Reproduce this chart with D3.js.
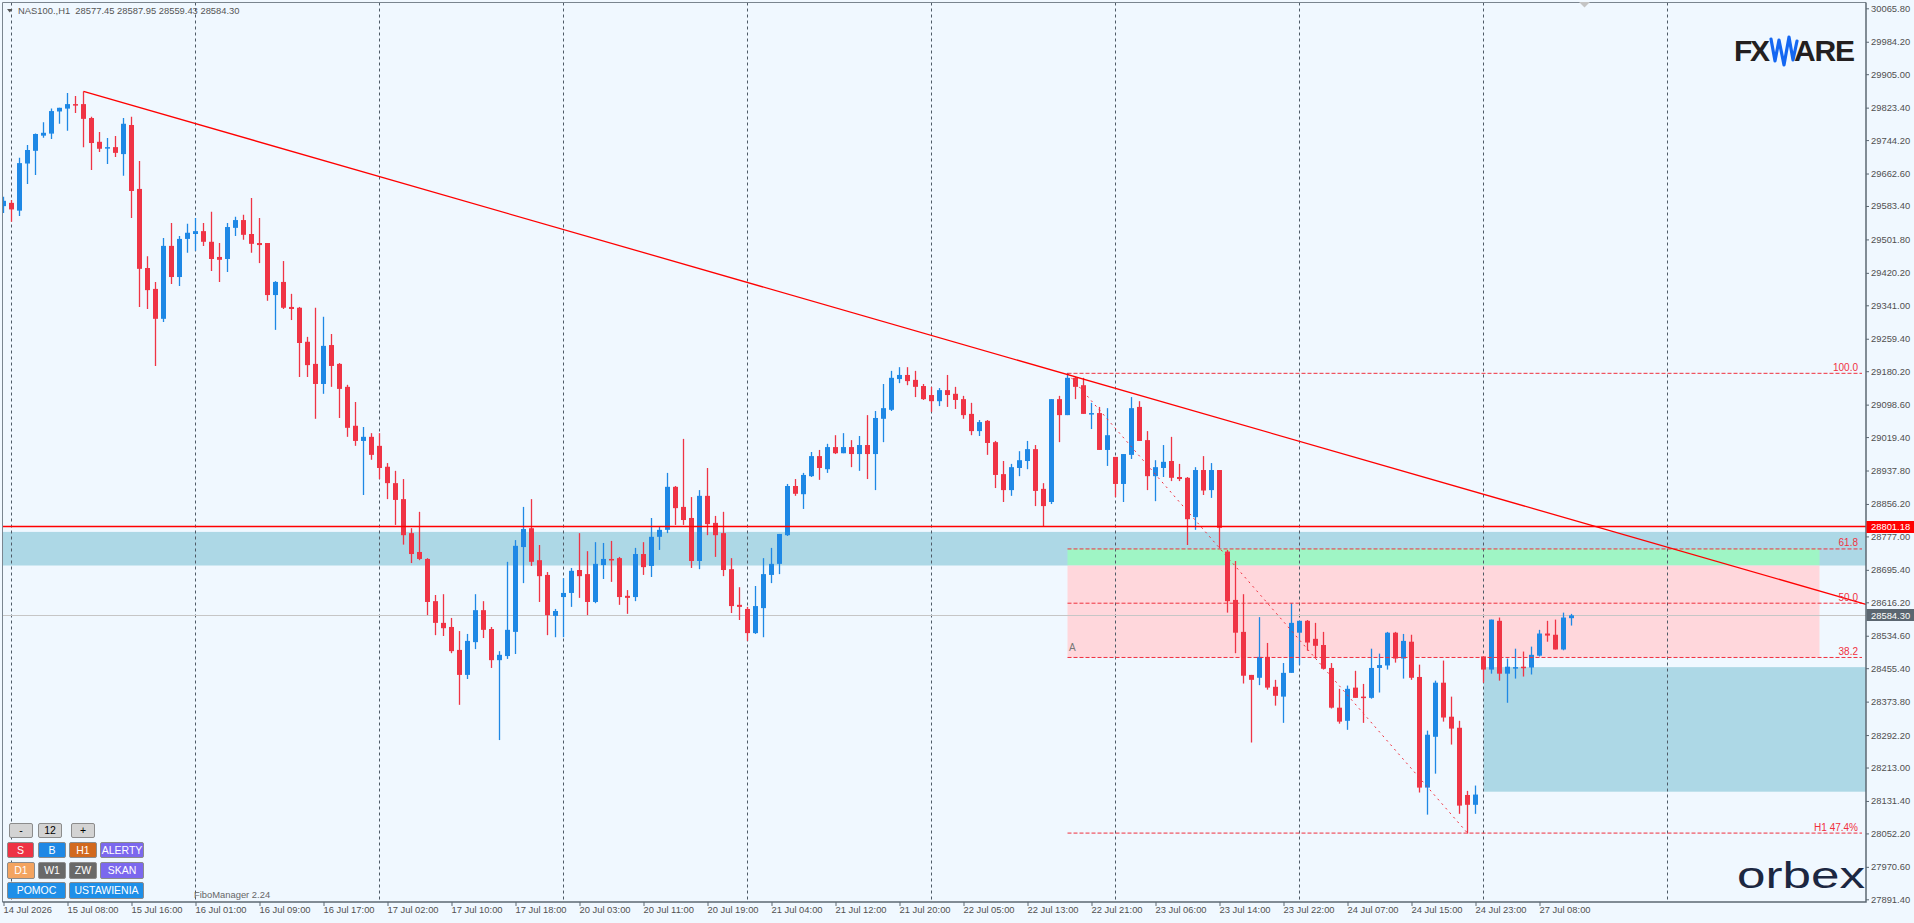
<!DOCTYPE html>
<html>
<head>
<meta charset="utf-8">
<script src="https://cdn.jsdelivr.net/npm/d3@7"></script>
<style>
html, body { margin:0; padding:0; background:#f0f8ff; overflow:hidden; }
svg { display:block; }
text { font-family:"Liberation Sans", Arial, sans-serif; }
</style>
</head>
<body>
<script>
// NAS100 H1 - ceny
const headerText = "NAS100.,H1  28577.45 28587.95 28559.43 28584.30";

const open = [
29583,29591,29572,29687,29718,29755,29760,29814,29821,29832,
29832,29798,29740,29726,29727,29710,29781,29625,29432,29381,
29308,29486,29410,29503,29515,29522,29496,29459,29454,29530,
29549,29515,29493,29493,29366,29398,29337,29335,29252,29198,
29149,29244,29198,29142,29047,29010,29020,28998,28947,28907,
28868,28785,28739,28722,28619,28566,28556,28500,28439,28519,
28597,28551,28475,28485,28544,28751,28797,28719,28683,28583,
28629,28639,28695,28685,28617,28707,28722,28724,28632,28629,
28734,28705,28776,28793,28898,28849,28822,28717,28876,28810,
28785,28697,28610,28600,28541,28602,28683,28710,28780,28900,
28880,28924,28973,28941,28995,28980,28995,28978,29000,28978,
29064,29086,29161,29171,29159,29144,29122,29107,29134,29125,
29112,29076,29034,29059,29007,28929,28890,28944,28961,28990,
28893,28861,29112,29073,29164,29146,29077,29078,28988,28971,
28905,28976,29093,29012,28924,28944,28961,28922,28920,28824,
28939,28890,28939,28740,28622,28544,28439,28432,28483,28410,
28386,28444,28542,28571,28527,28512,28456,28359,28327,28408,
28386,28383,28456,28462,28542,28479,28520,28434,28164,28288,
28420,28337,28310,28146,28122,28484,28452,28571,28442,28457,
28459,28457,28486,28540,28537,28501,28577.45];

const high = [
29606,29598,29701,29732,29760,29788,29821,29823,29859,29852,
29863,29801,29764,29749,29754,29798,29801,29693,29461,29398,
29505,29542,29510,29540,29554,29542,29569,29493,29542,29557,
29562,29603,29554,29493,29400,29449,29369,29337,29264,29335,
29313,29271,29200,29147,29105,29044,29029,29029,28956,28937,
28917,28797,28837,28724,28634,28636,28578,28546,28539,28636,
28619,28556,28497,28715,28768,28849,28868,28756,28690,28600,
28675,28700,28785,28741,28763,28761,28766,28727,28646,28749,
28763,28822,28800,28932,28900,29015,28873,28890,28944,28827,
28837,28724,28653,28605,28656,28724,28749,28783,28905,28917,
28932,28983,28988,29003,29024,29029,29012,29022,29073,29083,
29149,29181,29190,29190,29181,29149,29142,29139,29171,29142,
29120,29103,29061,29061,29010,28961,28954,28985,29010,29000,
28907,29112,29120,29176,29166,29164,29103,29093,29090,28971,
28978,29117,29107,29034,28963,29000,29020,28954,28922,28946,
28973,28956,28939,28744,28717,28636,28439,28580,28517,28427,
28468,28614,28571,28573,28566,28544,28468,28405,28413,28449,
28417,28503,28491,28544,28544,28539,28537,28464,28303,28425,
28474,28386,28327,28156,28169,28484,28574,28579,28479,28503,
28496,28508,28549,28571,28574,28591,28587.95];

const low = [
29566,29545,29559,29637,29659,29750,29747,29784,29767,29810,
29727,29671,29715,29686,29703,29657,29554,29337,29332,29193,
29300,29393,29388,29469,29474,29486,29425,29398,29422,29510,
29501,29469,29444,29352,29281,29332,29305,29166,29166,29064,
29125,29142,29066,29020,28998,28878,28964,28917,28868,28805,
28757,28712,28719,28585,28536,28534,28492,28366,28429,28502,
28529,28456,28280,28478,28490,28663,28705,28617,28536,28531,
28531,28605,28627,28585,28614,28673,28666,28610,28588,28619,
28683,28678,28744,28785,28805,28805,28700,28697,28780,28727,
28680,28590,28573,28522,28539,28531,28663,28685,28778,28876,
28844,28922,28915,28932,28978,28980,28946,28937,28917,28890,
29007,29083,29151,29146,29117,29110,29081,29095,29093,29088,
29064,29024,29022,28976,28895,28861,28876,28924,28941,28851,
28802,28856,29007,29073,29112,29076,29039,28988,28949,28873,
28861,28966,29010,28890,28863,28922,28912,28912,28756,28793,
28878,28871,28748,28591,28492,28418,28274,28414,28403,28364,
28322,28444,28464,28498,28479,28452,28357,28320,28305,28383,
28322,28381,28396,28452,28469,28430,28427,28152,28098,28198,
28325,28269,28100,28052,28100,28420,28442,28425,28371,28430,
28435,28440,28484,28520,28501,28499,28559.43];

const close = [
29596,29575,29688,29720,29759,29762,29815,29823,29832,29831,
29796,29737,29723,29727,29713,29784,29620,29430,29378,29308,
29486,29410,29503,29518,29522,29496,29454,29452,29532,29549,
29513,29491,29488,29366,29398,29335,29332,29249,29195,29149,
29242,29193,29137,29042,29010,29020,28976,28944,28907,28866,
28780,28734,28722,28617,28566,28553,28497,28439,28522,28597,
28549,28475,28488,28549,28754,28795,28715,28680,28585,28595,
28639,28693,28680,28617,28710,28722,28719,28629,28627,28734,
28702,28776,28793,28898,28846,28817,28717,28876,28807,28780,
28695,28607,28605,28541,28607,28685,28710,28783,28900,28881,
28927,28973,28944,28995,28980,28995,28978,29000,28978,29066,
29090,29164,29171,29156,29142,29112,29107,29134,29122,29110,
29073,29034,29056,29005,28927,28890,28946,28963,28990,28888,
28851,29112,29073,29164,29142,29076,29078,28988,29024,28905,
28978,29090,29010,28924,28946,28959,28920,28917,28819,28939,
28889,28939,28798,28619,28542,28437,28427,28483,28408,28388,
28444,28566,28571,28518,28510,28454,28359,28325,28405,28383,
28383,28456,28463,28542,28479,28522,28432,28164,28293,28420,
28335,28308,28120,28122,28147,28452,28574,28442,28459,28458,
28457,28488,28540,28535,28501,28579,28584.30];

const timeLabels = ["14 Jul 2026","15 Jul 08:00","15 Jul 16:00","16 Jul 01:00","16 Jul 09:00",
"16 Jul 17:00","17 Jul 02:00","17 Jul 10:00","17 Jul 18:00","20 Jul 03:00","20 Jul 11:00",
"20 Jul 19:00","21 Jul 04:00","21 Jul 12:00","21 Jul 20:00","22 Jul 05:00","22 Jul 13:00",
"22 Jul 21:00","23 Jul 06:00","23 Jul 14:00","23 Jul 22:00","24 Jul 07:00","24 Jul 15:00",
"24 Jul 23:00","27 Jul 08:00"];

const priceTicks = [30065.80,29984.20,29905.00,29823.40,29744.20,29662.60,29583.40,29501.80,
29420.20,29341.00,29259.40,29180.20,29098.60,29019.40,28937.80,28856.20,28777.00,28695.40,
28616.20,28534.60,28455.40,28373.80,28292.20,28213.00,28131.40,28052.20,27970.60,27891.40];

// obiekty na wykresie
const trendA = [10, 29863];
const trendB = [133, 29172];
const levelLine = 28801.18;
const lastPrice = 28584.30;
const blueBand = [28788, 28706];
const gapBox = [28458, 28154];
const fibStartBar = 133, fibEndBar = 183;
const fibHigh = 29175, fibLow = 28053;
const fibLevels = [100, 61.8, 50, 38.2];
const fibNames = ["100.0", "61.8", "50.0", "38.2"];
const fibZoneMid = 28706;

const W = 1914, H = 923;
const plotL = 2.5, plotR = 1866, plotT = 2.5, plotB = 902;

const x = d3.scaleLinear().domain([0, 196]).range([3.5, 3.5 + 8 * 196]);
const y = d3.scaleLinear().domain([27891.4, 30065.8]).range([899.3, 8.3]);
const fibPrice = lv => fibLow + (fibHigh - fibLow) * lv / 100;

const bull = "#1e88e5", bear = "#ef3445", fibRed = "#f0303e", frame = "#5c6873";

const svg = d3.select("body").append("svg").attr("width", W).attr("height", H);
svg.append("rect").attr("width", W).attr("height", H).attr("fill", "#f0f8ff");

svg.append("clipPath").attr("id", "plot")
  .append("rect").attr("x", plotL).attr("y", plotT).attr("width", plotR - plotL).attr("height", plotB - plotT);
const g = svg.append("g").attr("clip-path", "url(#plot)");

// strefy
g.append("rect").attr("x", plotL).attr("width", plotR - plotL)
  .attr("y", y(blueBand[0])).attr("height", y(blueBand[1]) - y(blueBand[0])).attr("fill", "#add8e6");
g.append("rect").attr("x", x(185)).attr("width", plotR - x(185))
  .attr("y", y(gapBox[0])).attr("height", y(gapBox[1]) - y(gapBox[0])).attr("fill", "#add8e6");
g.append("rect").attr("x", x(fibStartBar)).attr("width", x(227) - x(fibStartBar))
  .attr("y", y(fibPrice(61.8))).attr("height", y(fibZoneMid) - y(fibPrice(61.8))).attr("fill", "#9ff5c5");
g.append("rect").attr("x", x(fibStartBar)).attr("width", x(227) - x(fibStartBar))
  .attr("y", y(fibZoneMid)).attr("height", y(fibPrice(38.2)) - y(fibZoneMid)).attr("fill", "#ffd7dc");

// siatka
g.selectAll(".grid").data(d3.range(1, 230, 23)).enter().append("line")
  .attr("x1", d => x(d)).attr("x2", d => x(d)).attr("y1", plotT).attr("y2", plotB)
  .attr("stroke", "#4e5a66").attr("stroke-width", 1).attr("stroke-dasharray", "3,3");

// linia ceny
g.append("line").attr("x1", plotL).attr("x2", plotR).attr("y1", Math.round(y(lastPrice)) + 0.5)
  .attr("y2", Math.round(y(lastPrice)) + 0.5).attr("stroke", "#c6c6c6");

// swiece
const bars = open.map((o, i) => ({ i: i, o: o, h: high[i], l: low[i], c: close[i] }));
const candle = g.selectAll(".candle").data(bars).enter().append("g");
candle.append("line")
  .attr("x1", d => x(d.i)).attr("x2", d => x(d.i))
  .attr("y1", d => y(d.h)).attr("y2", d => y(d.l))
  .attr("stroke", d => d.c >= d.o ? bull : bear).attr("stroke-width", 1.3);
candle.append("rect")
  .attr("x", d => x(d.i) - 2.5).attr("width", 5)
  .attr("y", d => y(Math.max(d.o, d.c)))
  .attr("height", d => Math.max(1.5, Math.abs(y(d.o) - y(d.c))))
  .attr("fill", d => d.c >= d.o ? bull : bear);

// fibo
fibLevels.forEach((lv, k) => {
  g.append("line").attr("x1", x(fibStartBar)).attr("x2", plotR - 4)
    .attr("y1", y(fibPrice(lv))).attr("y2", y(fibPrice(lv)))
    .attr("stroke", fibRed).attr("stroke-dasharray", "4,2");
  svg.append("text").attr("x", 1858).attr("y", y(fibPrice(lv)) - 2.5)
    .attr("text-anchor", "end").attr("font-size", 10).attr("fill", fibRed).text(fibNames[k]);
});
g.append("line").attr("x1", x(fibStartBar)).attr("x2", plotR - 4)
  .attr("y1", y(fibLow)).attr("y2", y(fibLow))
  .attr("stroke", fibRed).attr("stroke-dasharray", "4,2");
svg.append("text").attr("x", 1858).attr("y", y(fibLow) - 2.5)
  .attr("text-anchor", "end").attr("font-size", 10).attr("fill", fibRed).text("H1 47.4%");
g.append("line").attr("x1", x(fibStartBar)).attr("y1", y(fibHigh))
  .attr("x2", x(fibEndBar)).attr("y2", y(fibLow))
  .attr("stroke", fibRed).attr("stroke-dasharray", "2,4");
svg.append("text").attr("x", 1069).attr("y", y(fibPrice(38.2)) - 6)
  .attr("font-size", 10).attr("fill", "#777").text("A");

// linia trendu
const slope = (trendB[1] - trendA[1]) / (trendB[0] - trendA[0]);
const endBar = x.invert(plotR);
g.append("line")
  .attr("x1", x(trendA[0])).attr("y1", y(trendA[1]))
  .attr("x2", x(endBar)).attr("y2", y(trendA[1] + slope * (endBar - trendA[0])))
  .attr("stroke", "#ff0000").attr("stroke-width", 1.3);

// poziom
g.append("line").attr("x1", plotL).attr("x2", plotR).attr("y1", y(levelLine)).attr("y2", y(levelLine))
  .attr("stroke", "#ff0000").attr("stroke-width", 1.6);

// ramka
svg.append("path")
  .attr("d", `M${plotL},${plotB} L${plotL},${plotT} L${plotR},${plotT}`)
  .attr("fill", "none").attr("stroke", "#7a858f").attr("stroke-width", 1);
svg.append("path")
  .attr("d", `M${plotR},${plotT} L${plotR},${plotB} L${plotL},${plotB}`)
  .attr("fill", "none").attr("stroke", frame).attr("stroke-width", 1.5);

// osie
const gy = svg.append("g").attr("transform", `translate(${plotR},0)`)
  .call(d3.axisRight(y).tickValues(priceTicks).tickFormat(d3.format(".2f")).tickSize(3).tickSizeOuter(0));
gy.select(".domain").remove();
gy.selectAll("line").attr("stroke", frame);
gy.selectAll("text").attr("x", 5).attr("font-size", 9.4)
  .attr("font-family", "Liberation Sans, Arial, sans-serif").attr("fill", "#505050");

const gx = svg.append("g").attr("transform", `translate(0,${plotB})`)
  .call(d3.axisBottom(x).tickValues(timeLabels.map((d, i) => i * 8))
    .tickFormat((d, i) => timeLabels[i]).tickSize(4).tickSizeOuter(0));
gx.select(".domain").remove();
gx.selectAll("line").attr("stroke", frame);
gx.selectAll("text").attr("text-anchor", "start").attr("x", -0.5).attr("y", 4.5)
  .attr("font-size", 9.4).attr("font-family", "Liberation Sans, Arial, sans-serif").attr("fill", "#505050");

// etykiety cen na osi
function priceTag(p, fill) {
  svg.append("rect").attr("x", plotR + 0.5).attr("y", Math.round(y(p)) - 6)
    .attr("width", W - plotR).attr("height", 12).attr("fill", fill);
  svg.append("text").attr("x", plotR + 5).attr("y", y(p)).attr("dy", "0.35em")
    .attr("font-size", 9.4).attr("fill", "#fff").text(d3.format(".2f")(p));
}
priceTag(levelLine, "#ff0000");
priceTag(lastPrice, "#5b6670");

// naglowek
svg.append("path").attr("d", "M7,9 L12.5,9 L9.75,12.5 Z").attr("fill", "#555");
svg.append("text").attr("x", 18).attr("y", 14).attr("font-size", 9.4).attr("fill", "#555")
  .attr("xml:space", "preserve").text(headerText);
svg.append("path").attr("d", "M1579,2 L1590,2 L1584.5,7.5 Z").attr("fill", "#c4c4c4");

// logo FXWARE
svg.append("text").attr("x", 1734).attr("y", 61).attr("font-size", 30).attr("font-weight", "bold")
  .attr("fill", "#231f20").attr("textLength", 36).text("FX");
svg.append("polyline")
  .attr("points", "1771,39 1775,61 1779,40 1784,65 1789,37 1793,60 1797,41")
  .attr("fill", "none").attr("stroke", "#1467f2").attr("stroke-width", 3.2)
  .attr("stroke-linejoin", "round").attr("stroke-linecap", "round");
svg.append("text").attr("x", 1794).attr("y", 61).attr("font-size", 30).attr("font-weight", "bold")
  .attr("fill", "#231f20").attr("textLength", 61).text("ARE");

// logo orbex
svg.append("text").attr("x", 1737).attr("y", 888).attr("font-size", 37)
  .attr("font-family", "Lato, 'Liberation Sans', sans-serif").attr("font-weight", 400)
  .attr("fill", "#1c2741").attr("textLength", 128).attr("lengthAdjust", "spacingAndGlyphs").text("orbex");

// przyciski panelu
const buttons = [
  { t: "-", x: 9.5, y: 823.5, w: 23, h: 14, f: "#d3d3d3", c: "#000" },
  { t: "12", x: 38.5, y: 823.5, w: 23, h: 14, f: "#d3d3d3", c: "#000" },
  { t: "+", x: 71.5, y: 823.5, w: 23, h: 14, f: "#d3d3d3", c: "#000" },
  { t: "S", x: 7.5, y: 842.5, w: 26, h: 15, f: "#ee3344", c: "#fff" },
  { t: "B", x: 38.5, y: 842.5, w: 27, h: 15, f: "#1e88e5", c: "#fff" },
  { t: "H1", x: 69.5, y: 842.5, w: 27, h: 15, f: "#d2691e", c: "#fff" },
  { t: "ALERTY", x: 100.5, y: 842.5, w: 43, h: 15, f: "#7b68ee", c: "#fff" },
  { t: "D1", x: 7.5, y: 862.5, w: 27, h: 16, f: "#f4a460", c: "#fff" },
  { t: "W1", x: 38.5, y: 862.5, w: 27, h: 16, f: "#696969", c: "#fff" },
  { t: "ZW", x: 69.5, y: 862.5, w: 27, h: 16, f: "#696969", c: "#fff" },
  { t: "SKAN", x: 100.5, y: 862.5, w: 43, h: 16, f: "#7b68ee", c: "#fff" },
  { t: "POMOC", x: 7.5, y: 882.5, w: 58, h: 16, f: "#1e8fe8", c: "#fff" },
  { t: "USTAWIENIA", x: 69.5, y: 882.5, w: 74, h: 16, f: "#1e8fe8", c: "#fff" }
];
const btn = svg.selectAll(".btn").data(buttons).enter().append("g");
btn.append("rect").attr("x", d => d.x).attr("y", d => d.y).attr("width", d => d.w).attr("height", d => d.h)
  .attr("rx", 1.5).attr("fill", d => d.f).attr("stroke", "#8c8c8c").attr("stroke-width", 1);
btn.append("text").attr("x", d => d.x + d.w / 2).attr("y", d => d.y + d.h / 2).attr("dy", "0.36em")
  .attr("text-anchor", "middle").attr("font-size", 10.5).attr("fill", d => d.c).text(d => d.t);

svg.append("text").attr("x", 194).attr("y", 898).attr("font-size", 9.4).attr("fill", "#666").text("FiboManager 2.24");
</script>
</body>
</html>
